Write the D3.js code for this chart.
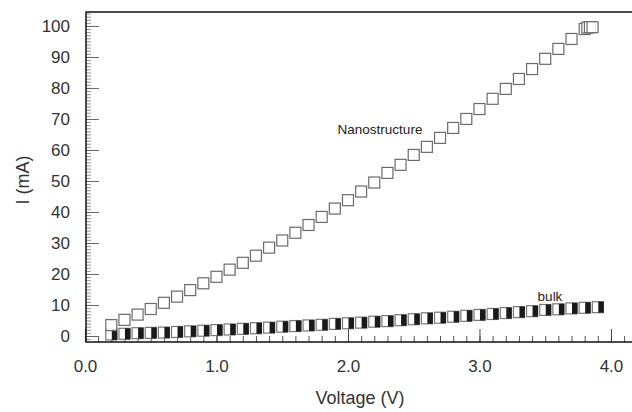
<!DOCTYPE html>
<head>
  <meta charset="utf-8">
  <script src="https://d3js.org/d3.v7.min.js"></script>
  <style>
body { margin: 0; background: white; }
svg { display: block; background-color: white; }
.axis text { font-family: 'Liberation Sans', Arial, sans-serif; fill: #333; }
  </style>
</head>
<body>
<svg width="632" height="412"></svg>
<script>
// nanostructure: voltage (V) and current (mA)
var nanoV = [0.2, 0.3, 0.4, 0.5, 0.6, 0.7, 0.8, 0.9, 1.0, 1.1, 1.2, 1.3, 1.4, 1.5, 1.6, 1.7, 1.8, 1.9, 2.0,
             2.1, 2.2, 2.3, 2.4, 2.5, 2.6, 2.7, 2.8, 2.9, 3.0, 3.1, 3.2, 3.3, 3.4, 3.5, 3.6, 3.7, 3.8, 3.82, 3.84, 3.86];
var nanoI = [3.5, 5.2, 6.9, 8.7, 10.7, 12.7, 14.8, 17.0, 19.1, 21.4, 23.6, 25.9, 28.5, 30.8, 33.3, 35.8, 38.4, 41.1, 43.8,
             46.6, 49.5, 52.6, 55.2, 58.4, 61.0, 63.9, 67.1, 70.0, 73.2, 76.5, 79.7, 82.9, 86.1, 89.4, 92.6, 95.8, 99.0, 99.5, 99.6, 99.6];
// bulk
var bulkV = [0.2, 0.3, 0.4, 0.5, 0.6, 0.7, 0.8, 0.9, 1.0, 1.1, 1.2, 1.3, 1.4, 1.5, 1.6, 1.7, 1.8, 1.9, 2.0,
             2.1, 2.2, 2.3, 2.4, 2.5, 2.6, 2.7, 2.8, 2.9, 3.0, 3.1, 3.2, 3.3, 3.4, 3.5, 3.6, 3.7, 3.8, 3.9];
var bulkI = [0.5, 0.7, 0.9, 1.0, 1.1, 1.3, 1.5, 1.7, 1.9, 2.1, 2.3, 2.5, 2.7, 3.0, 3.2, 3.4, 3.6, 3.9, 4.1,
             4.3, 4.6, 4.8, 5.1, 5.4, 5.7, 5.9, 6.2, 6.5, 6.8, 7.1, 7.4, 7.7, 8.0, 8.4, 8.6, 8.9, 9.1, 9.3];

var xTicks = [0, 1, 2, 3, 4];
var yTicks = [0, 10, 20, 30, 40, 50, 60, 70, 80, 90, 100];

var svg = d3.select("svg");

var x = d3.scaleLinear().domain([0, 4.16]).range([85, 632]);
var y = d3.scaleLinear().domain([-1.94, 104.5]).range([342, 12]);

// minor ticks
var xMinor = d3.range(1, 42).map(function(i) { return i / 10; });
var yMinor = d3.range(-1, 105);

svg.append("g")
   .attr("transform", "translate(0,342)")
   .call(d3.axisBottom(x).tickValues(xMinor).tickSize(-6).tickFormat(""))
   .call(function(g) { g.select(".domain").remove(); g.selectAll("line").attr("stroke", "#555"); });

svg.append("g")
   .attr("transform", "translate(86,0)")
   .call(d3.axisLeft(y).tickValues(yMinor).tickSize(-5).tickFormat(""))
   .call(function(g) { g.select(".domain").remove(); g.selectAll("line").attr("stroke", "#888").attr("stroke-width", 0.9); });

// major ticks + labels
svg.append("g")
   .attr("class", "axis")
   .attr("transform", "translate(0,342)")
   .call(d3.axisBottom(x).tickValues(xTicks).tickSize(-13).tickPadding(18).tickFormat(d3.format(".1f")))
   .call(function(g) {
     g.select(".domain").remove();
     g.selectAll("line").attr("stroke", "#444");
     g.selectAll("text").style("font-size", "17px");
   });

svg.append("g")
   .attr("class", "axis")
   .attr("transform", "translate(86,0)")
   .call(d3.axisLeft(y).tickValues(yTicks).tickSize(-13).tickPadding(16))
   .call(function(g) {
     g.select(".domain").remove();
     g.selectAll("line").attr("stroke", "#666");
     g.selectAll("text").style("font-size", "17px");
   });

// frame (no right side)
svg.append("path")
   .attr("d", "M632," + y.range()[1] + "H86V" + y.range()[0] + "H632")
   .attr("fill", "none")
   .attr("stroke", "#111")
   .attr("stroke-width", 1.5);

// axis titles
svg.append("text")
   .attr("x", 360).attr("y", 404)
   .attr("text-anchor", "middle")
   .style("font-family", "'Liberation Sans', Arial, sans-serif")
   .style("font-size", "18px").style("fill", "#333")
   .text("Voltage (V)");

svg.append("text")
   .attr("transform", "translate(29,180) rotate(-90)")
   .attr("text-anchor", "middle")
   .style("font-family", "'Liberation Sans', Arial, sans-serif")
   .style("font-size", "18px").style("fill", "#333")
   .text("I (mA)");

var s = 11;

// bulk markers: hollow square with dark right half
var bulk = svg.append("g").selectAll("g")
   .data(bulkV.map(function(v, i) { return [v, bulkI[i]]; }))
   .enter().append("g")
   .attr("transform", function(d) { return "translate(" + x(d[0]) + "," + y(d[1]) + ")"; });
bulk.append("rect")
   .attr("x", -s / 2).attr("y", -s / 2).attr("width", s).attr("height", s)
   .attr("fill", "white").attr("stroke", "#777").attr("stroke-width", 1.2);
bulk.append("rect")
   .attr("x", 0.5).attr("y", -s / 2).attr("width", s / 2).attr("height", s)
   .attr("fill", "#1a1a1a");

// nanostructure markers
svg.append("g").selectAll("rect")
   .data(nanoV.map(function(v, i) { return [v, nanoI[i]]; }))
   .enter().append("rect")
   .attr("x", function(d) { return x(d[0]) - s / 2; })
   .attr("y", function(d) { return y(d[1]) - s / 2; })
   .attr("width", s).attr("height", s)
   .attr("fill", "white").attr("fill-opacity", 0.85)
   .attr("stroke", "#6a6a6a").attr("stroke-width", 1.2);

// series labels
svg.append("text")
   .attr("x", 380).attr("y", 134)
   .attr("text-anchor", "middle")
   .style("font-family", "'Liberation Sans', Arial, sans-serif")
   .style("font-size", "13.5px").style("fill", "#222")
   .text("Nanostructure");

svg.append("text")
   .attr("x", 550).attr("y", 301)
   .attr("text-anchor", "middle")
   .style("font-family", "'Liberation Sans', Arial, sans-serif")
   .style("font-size", "13.5px").style("fill", "#222")
   .text("bulk");
</script>
</body>
</html>
